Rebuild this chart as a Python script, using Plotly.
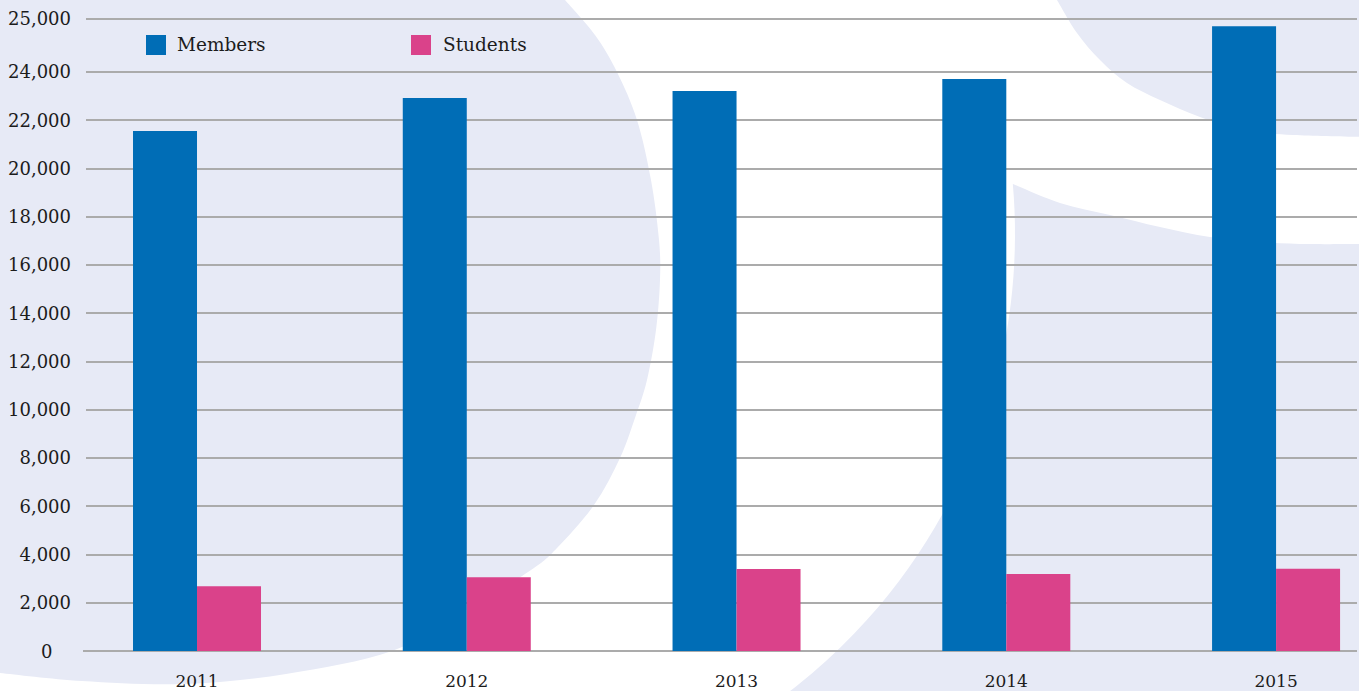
import numpy as np
import plotly.graph_objects as go

# ---------------- data ----------------
years = ["2011", "2012", "2013", "2014", "2015"]
members = [21550, 22920, 23210, 23710, 25900]
students = [2680, 3060, 3400, 3190, 3410]

y_tick_vals = [0, 2000, 4000, 6000, 8000, 10000, 12000, 14000, 16000,
               18000, 20000, 22000, 24000, 26200]
y_tick_text = ["", "2,000", "4,000", "6,000", "8,000", "10,000", "12,000",
               "14,000", "16,000", "18,000", "20,000", "22,000", "24,000",
               "25,000"]

# ---------------- styling ----------------
W, H = 1359, 691
ML, MR, MT, MB = 86, 2, 15, 40
PW, PH = W - ML - MR, H - MT - MB
BLUE = "#006db6"
PINK = "#da428a"
LAV = "#e7eaf6"
GRID = "#ababab"
TXT = "#1c1c1c"
FONT = "DejaVu Serif"


def P(x, y):
    """pixel -> paper coords"""
    return (x - ML) / PW, (H - MB - y) / PH


def fmt(x, y):
    a, b = P(x, y)
    return f"{a:.5f},{b:.5f}"


def smooth(pts):
    """Catmull-Rom through pts (pixel), returns 'C' segments (start at pts[0])."""
    s = ""
    n = len(pts)
    for i in range(n - 1):
        p0 = pts[i - 1] if i > 0 else pts[i]
        p1 = pts[i]
        p2 = pts[i + 1]
        p3 = pts[i + 2] if i + 2 < n else pts[i + 1]
        c1 = (p1[0] + (p2[0] - p0[0]) / 6, p1[1] + (p2[1] - p0[1]) / 6)
        c2 = (p2[0] - (p3[0] - p1[0]) / 6, p2[1] - (p3[1] - p1[1]) / 6)
        s += f" C {fmt(*c1)} {fmt(*c2)} {fmt(*p2)}"
    return s


# left big disc
left_pts = [(565, 0), (595, 35), (617, 72), (637, 120), (651, 180), (659, 240),
            (660, 280), (656, 330), (647, 380), (636, 415), (620, 458),
            (594, 505), (557, 548), (531, 570), (465, 611), (392, 651),
            (286, 674), (184, 684), (82, 681), (0, 673)]
path_left = (f"M {fmt(-5, -5)} L {fmt(567, -5)} L {fmt(*left_pts[0])}"
             + smooth(left_pts) + f" L {fmt(-5, 673)} Z")

# right big shape
top_pts = [(1013, 184), (1060, 203), (1110, 215), (1160, 227), (1210, 237),
           (1260, 242), (1310, 244), (1365, 244)]
cx, cy, r = 438, 234, 577
ys = np.linspace(700, 184, 40)
arc = [(cx + np.sqrt(r * r - (yy - cy) ** 2), yy) for yy in ys]
path_right = (f"M {fmt(*top_pts[0])}" + smooth(top_pts)
              + f" L {fmt(1365, 700)} L {fmt(*arc[0])}"
              + "".join(f" L {fmt(*p)}" for p in arc[1:]) + " Z")

# top-right shape
tr_pts = [(1057, 0), (1077, 33), (1100, 60), (1127, 83), (1160, 100),
          (1200, 117), (1243, 130), (1293, 135), (1365, 137)]
path_tr = (f"M {fmt(1055, -5)} L {fmt(*tr_pts[0])}" + smooth(tr_pts)
           + f" L {fmt(1365, -5)} Z")

shapes = [
    dict(type="path", path=p, xref="paper", yref="paper", fillcolor=LAV,
         line=dict(width=0), layer="below")
    for p in (path_left, path_right, path_tr)
]

# legend squares (custom)
for (x0, col) in [(146, BLUE), (411, PINK)]:
    a0, b0 = P(x0, 55)
    a1, b1 = P(x0 + 20, 35)
    shapes.append(dict(type="rect", xref="paper", yref="paper", x0=a0, x1=a1,
                       y0=b0, y1=b1, fillcolor=col, line=dict(width=0)))

# small extension of the zero line to the left
a0, b0 = P(83, 651)
a1, _ = P(87, 651)
shapes.append(dict(type="line", xref="paper", yref="paper", x0=a0, x1=a1,
                   y0=b0, y1=b0, line=dict(color=GRID, width=2)))

annotations = []
for label, tx in [("Members", 175), ("Students", 441)]:
    a, b = P(tx, 45)
    annotations.append(dict(text=label, x=a, y=b, xref="paper", yref="paper",
                            xanchor="left", yanchor="middle", showarrow=False,
                            font=dict(family=FONT, size=18.5, color=TXT)))
a, _ = P(46, 0)
annotations.append(dict(text="0", x=a, y=0, xref="paper", yref="y",
                        xanchor="center", yanchor="middle", showarrow=False,
                        font=dict(family=FONT, size=18, color=TXT)))

fig = go.Figure()
fig.add_trace(go.Bar(x=years, y=members, name="Members", marker_color=BLUE,
                     marker_line_width=0))
fig.add_trace(go.Bar(x=years, y=students, name="Students", marker_color=PINK,
                     marker_line_width=0))

fig.update_layout(
    width=W, height=H,
    margin=dict(l=ML, r=MR, t=MT, b=MB, pad=0, autoexpand=False),
    paper_bgcolor="white", plot_bgcolor="rgba(0,0,0,0)",
    barmode="group", bargap=0.5255, bargroupgap=0,
    showlegend=False,
    shapes=shapes, annotations=annotations,
    font=dict(family=FONT, color=TXT),
    xaxis=dict(type="category", range=[-0.4115, 4.300], showgrid=False,
               showline=False, zeroline=False, ticks="", automargin=False,
               tickfont=dict(family=FONT, size=17, color=TXT),
               ticklabelstandoff=18, fixedrange=True),
    yaxis=dict(range=[0, 26363], tickmode="array", tickvals=y_tick_vals,
               ticktext=y_tick_text, showgrid=True, gridcolor=GRID,
               gridwidth=2, zeroline=True, zerolinecolor=GRID,
               zerolinewidth=2, showline=False, ticks="", automargin=False,
               tickfont=dict(family=FONT, size=18, color=TXT),
               ticklabelstandoff=14, fixedrange=True),
)

fig.write_html(
    "out.html",
    config={"displayModeBar": False},
    post_script="document.body.style.margin='0';document.body.style.padding='0';"
                "document.body.style.overflow='hidden';",
)
